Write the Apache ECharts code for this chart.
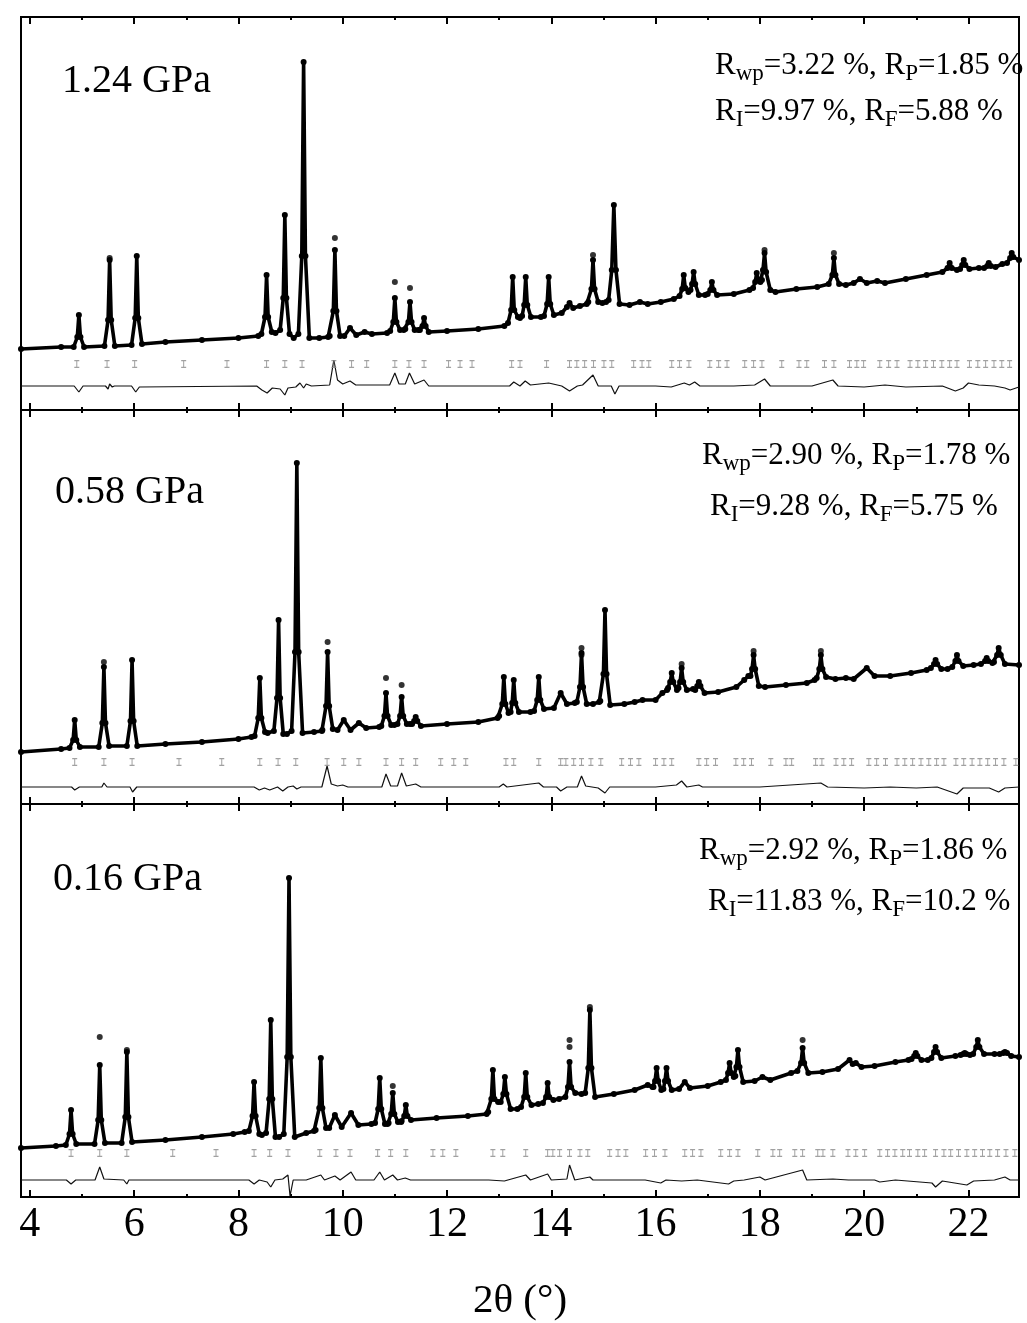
<!DOCTYPE html>
<html>
<head>
<meta charset="utf-8">
<script src="https://cdn.jsdelivr.net/npm/echarts@6.0.0/dist/echarts.min.js"></script>
<style>html,body{margin:0;padding:0;background:#fff}#c{width:1027px;height:1323px}</style>
</head>
<body>
<div id="c"></div>
<script>
// ---- data (2θ in degrees, intensity in arbitrary units) ----
const pressures = ['1.24 GPa', '0.58 GPa', '0.16 GPa'];
const rLine1 = [['wp','3.22 %','P','1.85 %'], ['wp','2.90 %','P','1.78 %'], ['wp','2.92 %','P','1.86 %']];
const rLine2 = [['I','9.97 %','F','5.88 %'], ['I','9.28 %','F','5.75 %'], ['I','11.83 %','F','10.2 %']];
const majorTicks = [4, 6, 8, 10, 12, 14, 16, 18, 20, 22];
const minorTicks = [5, 7, 9, 11, 13, 15, 17, 19, 21];
const tickLabels = ['4', '6', '8', '10', '12', '14', '16', '18', '20', '22'];
const xMin = 3.83, xMax = 22.97;
const panelMax = [393, 394, 393];

const profile124 = [[3.83,61],[4.6,63],
[4.84,63],[4.91,73],[4.94,95],[4.97,73],[5.04,63],
[5.43,64],[5.5,90],[5.53,150],[5.56,90],[5.63,64],
[5.95,65],[6.02,92],[6.05,154],[6.08,92],[6.15,66],
[6.6,68],[7.3,70],[8.0,72],[8.38,74],
[8.44,76],[8.51,93],[8.54,135],[8.57,93],[8.64,78],[8.71,77],
[8.8,80],[8.86,112],[8.89,195],[8.92,112],[8.98,76],[9.06,72],
[9.15,76],[9.215,154],[9.25,348],[9.285,154],[9.36,72],
[9.55,72],[9.72,73],
[9.75,74],[9.82,99],[9.85,160],[9.88,99],[9.95,74],
[10.03,74],[10.14,82],[10.26,75],[10.42,78],[10.56,76],[10.85,77],
[10.91,79],[10.97,88],[11.0,112],[11.03,88],[11.1,80],[11.17,80],
[11.2,81],[11.26,88],[11.29,108],[11.32,88],[11.38,80],[11.45,80],
[11.48,80],[11.53,84],[11.56,92],[11.59,84],[11.65,78],
[12.0,79],[12.6,81],[13.1,84],
[13.17,87],[13.23,100],[13.26,133],[13.29,100],[13.36,93],[13.4,92],
[13.44,94],[13.48,105],[13.51,133],[13.54,105],[13.61,93],[13.8,93],
[13.86,94],[13.92,106],[13.95,133],[13.98,106],[14.05,95],
[14.2,97],[14.3,103],[14.35,107],[14.42,102],[14.55,104],[14.68,106],
[14.71,108],[14.77,121],[14.8,150],[14.83,121],[14.9,108],[14.98,107],[15.05,108],
[15.1,110],[15.16,140],[15.2,205],[15.24,140],[15.31,106],
[15.5,105],[15.7,108],[15.85,106],[16.1,108],[16.35,111],
[16.46,114],[16.51,121],[16.54,135],[16.57,122],[16.63,118],
[16.67,120],[16.7,126],[16.73,138],[16.76,126],[16.83,115],[16.95,115],
[17.0,116],[17.05,120],[17.08,128],[17.11,120],[17.18,115],
[17.5,116],[17.8,120],
[17.87,122],[17.91,128],[17.94,137],[17.97,130],[18.01,128],
[18.04,130],[18.06,140],[18.09,157],[18.12,138],[18.2,120],
[18.3,118],[18.7,121],[19.1,123],
[19.32,126],[19.39,135],[19.42,152],[19.45,135],[19.52,126],
[19.65,125],[19.8,127],[19.92,131],[20.05,127],[20.25,129],[20.4,127],[20.8,131],[21.2,135],
[21.5,138],[21.6,142],[21.64,147],[21.68,142],[21.78,140],
[21.84,141],[21.88,145],[21.91,150],[21.94,145],[22.02,141],[22.2,142],
[22.3,142],[22.36,144],[22.39,147],[22.43,144],[22.52,143],[22.65,146],
[22.74,147],[22.8,152],[22.83,157],[22.86,153],[22.97,150]];

const profile058 = [[3.83,52],[4.6,55],
[4.76,56],[4.83,64],[4.86,84],[4.89,64],[4.96,57],
[5.32,57],[5.39,81],[5.42,137],[5.45,81],[5.52,58],
[5.86,58],[5.93,83],[5.96,144],[5.99,83],[6.06,58],
[6.6,60],[7.3,62],[8.0,65],[8.25,67],
[8.31,68],[8.38,86],[8.41,126],[8.44,86],[8.51,72],[8.56,71],
[8.68,73],[8.74,106],[8.77,184],[8.8,106],[8.86,70],[8.93,70],
[9.02,73],[9.085,152],[9.12,341],[9.155,152],[9.23,71],
[9.45,72],[9.6,73],
[9.61,74],[9.68,98],[9.71,152],[9.74,98],[9.81,75],
[9.9,74],[10.02,84],[10.15,74],[10.31,81],[10.45,76],[10.7,77],
[10.74,78],[10.8,88],[10.83,111],[10.86,88],[10.93,79],[10.99,79],
[11.05,80],[11.1,88],[11.13,107],[11.16,88],[11.23,80],[11.29,80],
[11.33,80],[11.37,83],[11.4,87],[11.43,83],[11.5,78],
[12.0,80],[12.6,82],[12.97,86],
[13.0,88],[13.06,100],[13.09,127],[13.12,100],[13.18,91],
[13.22,92],[13.25,101],[13.28,124],[13.31,101],[13.38,92],[13.6,92],
[13.67,93],[13.73,104],[13.76,127],[13.79,104],[13.86,95],
[14.05,96],[14.18,111],[14.3,100],[14.45,101],
[14.49,102],[14.55,117],[14.58,151],[14.61,117],[14.68,100],
[14.8,100],[14.92,102],
[14.94,103],[15.0,130],[15.03,194],[15.06,130],[15.13,99],
[15.4,100],[15.6,102],[15.75,104],[16.0,104],[16.13,111],[16.22,114],
[16.24,116],[16.28,122],[16.31,131],[16.34,122],[16.41,114],
[16.44,116],[16.47,122],[16.5,136],[16.53,122],[16.6,114],[16.72,115],
[16.76,114],[16.8,118],[16.83,122],[16.86,118],[16.94,111],
[17.2,112],[17.55,117],[17.7,124],[17.78,128],
[17.82,128],[17.85,135],[17.88,149],[17.91,135],[17.98,118],
[18.1,117],[18.5,119],[18.9,121],[19.05,124],
[19.09,126],[19.14,135],[19.17,149],[19.2,135],[19.27,127],
[19.45,125],[19.65,126],[19.8,125],[20.05,136],[20.2,128],[20.5,128],[20.9,131],[21.2,134],
[21.28,136],[21.34,140],[21.37,144],[21.4,140],[21.48,135],[21.6,135],
[21.69,137],[21.75,143],[21.78,149],[21.81,143],[21.9,138],[22.1,139],
[22.24,140],[22.32,143],[22.35,146],[22.38,143],[22.46,141],
[22.49,142],[22.55,149],[22.58,156],[22.62,149],[22.7,140],[22.97,139]];

const profile016 = [[3.83,49],[4.5,51],
[4.69,52],[4.76,63],[4.79,87],[4.82,63],[4.89,53],
[5.24,53],[5.31,77],[5.34,132],[5.37,77],[5.44,54],
[5.76,54],[5.83,80],[5.86,145],[5.89,80],[5.96,55],
[6.6,57],[7.3,60],[7.9,63],[8.12,65],
[8.2,66],[8.27,81],[8.3,115],[8.33,81],[8.4,63],[8.45,62],
[8.53,64],[8.59,98],[8.62,177],[8.65,98],[8.71,60],[8.78,60],
[8.87,63],[8.935,140],[8.97,319],[9.005,140],[9.08,60],
[9.3,64],[9.45,66],
[9.48,67],[9.55,89],[9.58,139],[9.61,89],[9.68,69],
[9.74,69],[9.85,82],[9.98,70],[10.16,84],[10.3,72],[10.55,73],
[10.62,74],[10.68,88],[10.71,119],[10.74,88],[10.81,73],[10.86,73],
[10.88,74],[10.93,83],[10.96,104],[10.99,83],[11.06,75],[11.12,75],
[11.13,76],[11.18,81],[11.21,92],[11.24,81],[11.31,77],
[11.8,79],[12.4,81],[12.76,83],
[12.79,85],[12.85,98],[12.88,127],[12.91,98],[12.98,95],
[13.03,95],[13.08,103],[13.11,120],[13.14,103],[13.22,88],[13.35,88],
[13.42,90],[13.48,100],[13.51,124],[13.54,100],[13.62,92],[13.75,93],
[13.84,94],[13.9,100],[13.93,114],[13.96,100],[14.04,97],[14.15,98],
[14.27,100],[14.32,110],[14.35,135],[14.38,110],[14.46,104],[14.58,103],
[14.65,104],[14.71,129],[14.74,187],[14.77,129],[14.84,100],
[15.2,103],[15.6,107],[15.85,112],[15.94,110],
[15.96,110],[15.99,116],[16.02,129],[16.05,116],[16.11,107],
[16.15,108],[16.18,116],[16.21,129],[16.24,116],[16.31,107],
[16.45,108],[16.56,115],[16.66,109],[17.0,111],[17.25,115],
[17.35,117],[17.39,124],[17.42,134],[17.45,124],[17.5,120],
[17.53,121],[17.55,130],[17.58,147],[17.61,130],[17.68,115],
[17.9,116],[18.05,120],[18.2,117],[18.6,124],
[18.72,126],[18.79,134],[18.82,149],[18.85,134],[18.93,124],
[19.2,125],[19.5,128],[19.72,137],[19.78,133],[19.84,134],[19.95,130],[20.2,131],[20.6,135],[20.85,137],
[20.91,138],[20.96,141],[20.99,144],[21.02,141],[21.1,137],[21.22,137],
[21.29,139],[21.34,145],[21.37,150],[21.4,145],[21.48,139],[21.75,141],
[21.85,142],[21.9,143],[21.93,144],[21.96,143],[22.03,142],
[22.09,143],[22.15,150],[22.18,157],[22.21,150],[22.3,143],[22.5,143],
[22.6,143],[22.67,144],[22.7,145],[22.74,144],[22.82,141],[22.97,140]];

const obsTop124 = [[5.53,152],[9.85,172],[11.0,128],[11.29,122],[14.8,155],[18.09,160],[19.42,157]];
const obsTop058 = [[5.42,142],[9.71,162],[10.83,126],[11.13,119],[14.58,156],[14.58,149],[16.5,140],[17.88,153],[19.17,153]];
const obsTop016 = [[5.34,160],[5.86,147],[10.96,111],[14.35,157],[14.35,150],[14.74,190],[18.82,157]];

const bragg124 = [4.90,5.48,6.01,6.95,7.78,8.54,8.89,9.22,9.83,10.17,10.46,11.00,11.27,11.56,12.03,12.25,12.48,13.24,13.40,13.91,14.35,14.49,14.64,14.81,15.01,15.16,15.58,15.74,15.87,16.31,16.46,16.64,17.04,17.21,17.37,17.71,17.88,18.04,18.42,18.75,18.90,19.24,19.42,19.72,19.86,19.99,20.30,20.47,20.63,20.88,21.03,21.18,21.33,21.49,21.64,21.78,22.02,22.18,22.33,22.49,22.64,22.79];
const bragg058 = [4.86,5.42,5.96,6.86,7.68,8.41,8.76,9.10,9.70,10.02,10.31,10.83,11.13,11.40,11.88,12.13,12.36,13.13,13.28,13.76,14.18,14.28,14.43,14.58,14.76,14.95,15.35,15.52,15.68,16.00,16.16,16.31,16.83,16.98,17.15,17.54,17.69,17.84,18.21,18.50,18.61,19.07,19.19,19.46,19.61,19.76,20.09,20.24,20.41,20.63,20.78,20.93,21.09,21.24,21.39,21.53,21.76,21.91,22.07,22.22,22.37,22.52,22.68,22.91];
const bragg016 = [4.79,5.34,5.86,6.74,7.57,8.30,8.60,8.95,9.56,9.87,10.14,10.67,10.92,11.21,11.73,11.92,12.17,12.88,13.07,13.51,13.93,14.03,14.16,14.35,14.55,14.70,15.12,15.28,15.43,15.81,15.98,16.18,16.56,16.71,16.87,17.25,17.42,17.58,17.96,18.25,18.38,18.67,18.82,19.11,19.21,19.40,19.69,19.84,20.01,20.30,20.45,20.59,20.74,20.87,21.03,21.16,21.37,21.53,21.66,21.81,21.97,22.12,22.27,22.41,22.56,22.72,22.89];
const braggLevel = [46, 42, 44];

const diff124 = [[3.83,24],[4.85,24],[4.94,18],[5.02,24],[5.45,24],[5.5,21],[5.53,26],[5.58,23],[5.62,24],[5.95,24],[6.03,18],[6.1,23],[8.35,24],[8.45,20],[8.55,17],[8.65,22],[8.8,21],[8.89,15],[8.95,22],[9.1,23],[9.18,27],[9.25,22],[9.3,26],[9.4,24],[9.75,25],[9.83,50],[9.9,30],[10.0,26],[10.14,29],[10.25,25],[10.9,25],[11.0,37],[11.08,26],[11.2,26],[11.28,37],[11.38,26],[11.56,30],[11.65,24],[13.2,24],[13.28,28],[13.4,24],[13.5,29],[13.6,25],[13.95,27],[14.2,24],[14.35,19],[14.5,24],[14.6,25],[14.8,35],[14.9,24],[15.15,24],[15.22,16],[15.3,24],[16.0,24],[16.3,23],[16.55,27],[16.65,25],[16.75,28],[16.85,24],[17.5,24],[17.9,25],[18.09,31],[18.2,24],[19.0,24],[19.4,30],[19.5,24],[20.0,23],[20.4,25],[20.8,23],[21.5,24],[21.75,19],[21.9,22],[22.0,27],[22.2,25],[22.5,24],[22.7,22],[22.8,20],[22.97,23]];
const diff058 = [[3.83,17],[4.8,17],[4.86,14],[4.95,17],[5.38,17],[5.42,21],[5.48,17],[5.92,17],[5.97,12],[6.05,17],[8.3,17],[8.4,14],[8.5,16],[8.6,14],[8.75,17],[8.85,13],[8.95,17],[9.05,18],[9.12,15],[9.2,17],[9.6,17],[9.7,38],[9.78,20],[9.9,18],[10.0,19],[10.1,17],[10.75,17],[10.83,30],[10.92,18],[11.05,18],[11.13,31],[11.22,18],[11.4,20],[11.5,17],[13.0,17],[13.08,20],[13.15,17],[13.76,21],[13.85,17],[14.1,17],[14.18,13],[14.3,17],[14.5,17],[14.58,28],[14.66,18],[14.9,16],[15.03,11],[15.12,17],[16.0,17],[16.4,19],[16.5,23],[16.6,17],[16.83,19],[16.9,17],[18.0,17],[19.17,21],[19.3,17],[20.0,16],[20.5,17],[21.0,16],[21.4,17],[21.78,10],[21.9,16],[22.4,16],[22.58,12],[22.7,16],[22.97,17]];
const diff016 = [[3.83,17],[4.7,17],[4.79,13],[4.88,17],[5.25,17],[5.34,30],[5.42,18],[5.8,17],[5.86,13],[5.9,17],[8.2,17],[8.3,13],[8.4,17],[8.55,15],[8.62,10],[8.7,17],[8.85,18],[8.95,22],[8.99,1],[9.05,17],[9.3,17],[9.58,22],[9.65,17],[9.85,21],[9.95,17],[10.16,25],[10.25,17],[10.6,17],[10.71,25],[10.8,17],[10.96,22],[11.05,17],[11.2,19],[11.3,17],[12.8,17],[13.1,16],[13.51,22],[13.6,17],[13.93,23],[14.0,17],[14.3,18],[14.35,32],[14.45,17],[14.74,20],[14.8,17],[15.8,17],[16.1,14],[16.2,17],[16.5,16],[16.8,17],[17.4,13],[17.5,16],[17.7,17],[18.0,20],[18.1,17],[18.82,27],[18.9,17],[19.4,18],[19.7,17],[20.2,17],[20.3,15],[20.6,17],[21.3,14],[21.37,10],[21.5,16],[21.97,12],[22.1,16],[22.5,17],[22.7,20],[22.8,17],[22.97,17]];

const profiles = [profile124, profile058, profile016];
const obsTops = [obsTop124, obsTop058, obsTop016];
const braggs = [bragg124, bragg058, bragg016];
const diffs = [diff124, diff058, diff016];

// ---- layout ----
const FONT = 'Liberation Serif';
const grids = [
  {left: 21, top: 17, width: 998, height: 393},
  {left: 21, top: 410, width: 998, height: 394},
  {left: 21, top: 804, width: 998, height: 393}
].map(g => Object.assign(g, {show: true, borderColor: '#000', borderWidth: 2, backgroundColor: 'transparent', containLabel: false}));

const xAxes = [], yAxes = [], series = [];
for (let i = 0; i < 3; i++) {
  const base = {gridIndex: i, type: 'value', min: xMin, max: xMax, axisLine: {show: false}, splitLine: {show: false}};
  const lbl = i === 2 ? {show: true, customValues: majorTicks, formatter: v => tickLabels[majorTicks.indexOf(v)] || '', fontSize: 42, fontFamily: FONT, color: '#000', margin: 7} : {show: false};
  const major = pos => Object.assign({}, base, {position: pos, axisTick: {show: true, inside: true, length: 7, customValues: majorTicks, lineStyle: {color: '#000', width: 2}}, axisLabel: pos === 'bottom' ? lbl : {show: false}});
  const minor = pos => Object.assign({}, base, {position: pos, axisTick: {show: true, inside: true, length: 3, customValues: minorTicks, lineStyle: {color: '#000', width: 2}}, axisLabel: {show: false}});
  const xb = major('bottom');
  if (i === 2) {
    xb.name = '2θ (°)';
    xb.nameLocation = 'middle';
    xb.nameGap = 84;
    xb.nameTextStyle = {fontSize: 41, fontFamily: FONT, color: '#000'};
  }
  xAxes.push(xb, major('top'), minor('bottom'), minor('top'));
  yAxes.push({gridIndex: i, type: 'value', min: 0, max: panelMax[i], show: false});
  const xi = i * 4;
  series.push({
    type: 'line', xAxisIndex: xi, yAxisIndex: i, data: profiles[i],
    lineStyle: {color: '#000', width: 3.6, join: 'round'}, itemStyle: {color: '#000'},
    symbol: 'circle', symbolSize: 6, showSymbol: true, showAllSymbol: true, z: 3, silent: true
  });
  series.push({
    type: 'scatter', xAxisIndex: xi, yAxisIndex: i, data: obsTops[i],
    symbol: 'circle', symbolSize: 6, itemStyle: {color: '#000'}, z: 4, silent: true
  });
  series.push({
    type: 'scatter', xAxisIndex: xi, yAxisIndex: i, data: braggs[i].map(v => [v, braggLevel[i]]),
    symbol: 'path://M0,0H7V1.5H4.2V8.5H7V10H0V8.5H2.8V1.5H0Z', symbolSize: [5, 8],
    itemStyle: {color: '#8a8a8a'}, z: 2, silent: true
  });
  series.push({
    type: 'line', xAxisIndex: xi, yAxisIndex: i, data: diffs[i],
    lineStyle: {color: '#111', width: 1.2}, symbol: 'none', z: 2, silent: true
  });
}

const richR = {
  a: {fontSize: 31, fontFamily: FONT, color: '#000', lineHeight: 38},
  s: {fontSize: 23, fontFamily: FONT, color: '#000', lineHeight: 23, verticalAlign: 'bottom'}
};
const gpaPos = [[62, 61], [55, 472], [53, 859]];
const r1Pos = [[715, 47], [702, 437], [699, 832]];
const r2Pos = [[715, 93], [710, 488], [708, 883]];
const titles = [];
for (let i = 0; i < 3; i++) {
  titles.push({text: pressures[i], left: gpaPos[i][0], top: gpaPos[i][1], padding: 0,
    textStyle: {fontSize: 40, fontFamily: FONT, fontWeight: 'normal', color: '#000', lineHeight: 40}});
  const a = rLine1[i], b = rLine2[i];
  titles.push({text: '{a|R}{s|' + a[0] + '}{a|=' + a[1] + ', R}{s|' + a[2] + '}{a|=' + a[3] + '}',
    left: r1Pos[i][0], top: r1Pos[i][1], padding: 0, textStyle: {rich: richR, fontWeight: 'normal'}});
  titles.push({text: '{a|R}{s|' + b[0] + '}{a|=' + b[1] + ', R}{s|' + b[2] + '}{a|=' + b[3] + '}',
    left: r2Pos[i][0], top: r2Pos[i][1], padding: 0, textStyle: {rich: richR, fontWeight: 'normal'}});
}

const chart = echarts.init(document.getElementById('c'), null, {renderer: 'canvas'});
chart.setOption({
  backgroundColor: '#fff',
  animation: false,
  title: titles,
  grid: grids,
  xAxis: xAxes,
  yAxis: yAxes,
  series: series
});
</script>
</body>
</html>
